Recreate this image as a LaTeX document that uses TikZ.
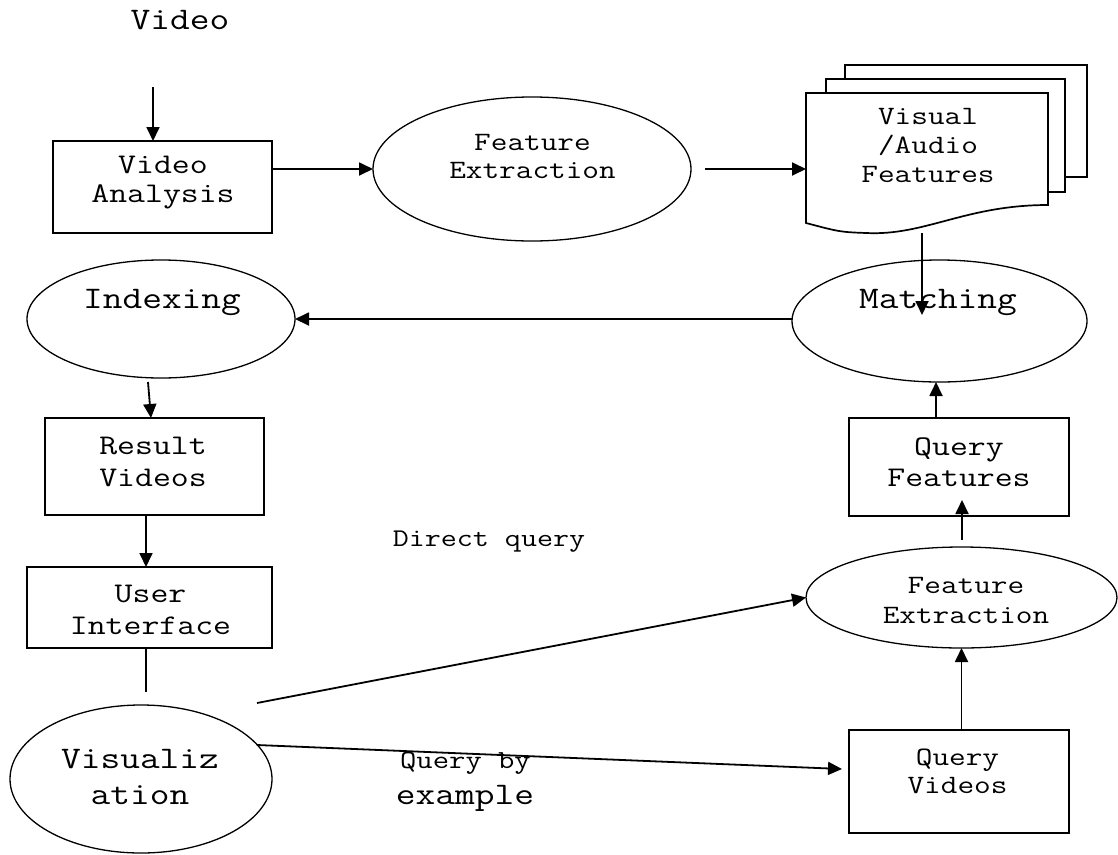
\documentclass[tikz,border=0pt]{standalone}
\usepackage{fontspec}
\newfontfamily\mono[FakeStretch=1.22]{Latin Modern Mono}
\usetikzlibrary{shapes.geometric,arrows.meta}
\newcommand\myfs[2]{\fontsize{#1}{#2}\selectfont}
\begin{document}
\begin{tikzpicture}[x=1pt,y=-1pt,
  shp/.style={draw, line width=1.3pt, inner sep=0pt, outer sep=0pt},
  boxn/.style={shp, rectangle, line width=1.7pt},
  elln/.style={shp, ellipse},
  txt/.style={font=\mono, align=center, inner sep=0pt},
  arr/.style={line width=1.8pt, -{Triangle[length=14pt,width=13pt]}},
  plain/.style={line width=1.8pt},
  docn/.style={line width=1.7pt, fill=white}]
\useasboundingbox (0,0) rectangle (1118,854);

% shapes
\node[boxn, minimum width=219pt, minimum height=92pt] (va) at (162.5,187) {};
\node[elln, minimum width=318pt, minimum height=144pt] (fe1) at (532,169) {};
\node[inner sep=0pt, outer sep=0pt, minimum width=242pt, minimum height=112pt] (feat) at (927,149) {};
\node[elln, minimum width=295pt, minimum height=122pt] (match) at (939.5,321) {};
\node[elln, minimum width=268pt, minimum height=118pt] (index) at (161,319) {};
\node[boxn, minimum width=219pt, minimum height=97pt] (res) at (154.5,466.5) {};
\node[boxn, minimum width=245pt, minimum height=81pt] (ui) at (149.5,607.5) {};
\node[elln, minimum width=262pt, minimum height=148pt] (vis) at (141,779) {};
\node[boxn, minimum width=220pt, minimum height=98pt] (qf) at (959,467) {};
\node[elln, minimum width=311pt, minimum height=101pt] (fe2) at (961.5,597.5) {};
\node[boxn, minimum width=220pt, minimum height=103pt] (qv) at (959,781.5) {};

% document stack
\draw[docn] (845,65) rectangle (1087,177);
\draw[docn] (826,79) rectangle (1065,192);
\draw[docn] (feat.north west) -- (feat.north east) -- (feat.south east)
  .. controls (965,205) and (925,236) .. (866,233)
  .. controls (840,232) .. (806,223) -- cycle;

% texts
\node[txt, font=\mono\myfs{31.4}{34}] (tvideo) at (180,20) {Video};
\node[txt, font=\mono\myfs{28.5}{29}] (tva) at (163,183) {Video\\Analysis};
\node[txt, font=\mono\myfs{26.5}{28}] (tfe1) at (532.5,156) {Feature\\Extraction};
\node[txt, font=\mono\myfs{26.5}{29}] (tfeat) at (928,145) {Visual\\/Audio\\Features};
\node[txt, font=\mono\myfs{31.4}{34}] (tindex) at (162,302.5) {Indexing};
\node[txt, font=\mono\myfs{31.4}{34}] (tmatch) at (938,302) {Matching};
\node[txt, font=\mono\myfs{28.5}{32}] (tres) at (153,462) {Result\\Videos};
\node[txt, font=\mono\myfs{28.5}{31.5}] (tui) at (150.5,610) {User\\Interface};
\node[txt, font=\mono\myfs{28.5}{31}] (tqf) at (959,462.5) {Query\\Features};
\node[txt, font=\mono\myfs{26.5}{30}] (tfe2) at (966,600) {Feature\\Extraction};
\node[txt, font=\mono\myfs{26.5}{28}] (tqv) at (957.5,771) {Query\\Videos};
\node[txt, font=\mono\myfs{31.4}{36.5}] (tvis) at (140,777) {Visualiz\\ation};
\node[txt, font=\mono\myfs{26}{28}] (tqby) at (465.5,763) {Query by};
\node[txt, font=\mono\myfs{31.4}{34}] (tex) at (465,798.5) {example};
\node[txt, font=\mono\myfs{25.5}{28}] (tdq) at (489,542) {Direct query};

% connectors
\coordinate (v0) at (153,87);
\draw[arr] (v0) -- (v0 |- va.north);
\draw[arr] (fe1.west -| va.east) -- (fe1.west);
\coordinate (f0) at (705,169);
\draw[arr] (f0) -- (f0 -| feat.west);
\coordinate (d0) at (922,233);
\coordinate (d1) at (922,315);
\draw[arr] (d0) -- (d1);
\draw[arr] (index.east -| match.west) -- (index.east);
\coordinate (i0) at (148,382);
\draw[arr] (i0) -- ([xshift=-3.5pt]res.north);
\coordinate (r0) at (146,515);
\draw[arr] (r0) -- (r0 |- ui.north);
\coordinate (u0) at (146,648);
\coordinate (u1) at (146,692);
\draw[plain] (u0) -- (u1);
\coordinate (q0) at (257,703);
\draw[arr] (q0) -- (fe2.west);
\coordinate (q1) at (257,745);
\coordinate (q2) at (842,769);
\draw[arr] (q1) -- (q2);
\draw[arr] (fe2.south |- qv.north) -- (fe2.south);
\coordinate (e0) at (962,540);
\coordinate (e1) at (962,500);
\draw[arr] (e0) -- (e1);
\coordinate (g0) at (936,418);
\draw[arr] (g0) -- (g0 |- match.south);
\end{tikzpicture}
\end{document}
